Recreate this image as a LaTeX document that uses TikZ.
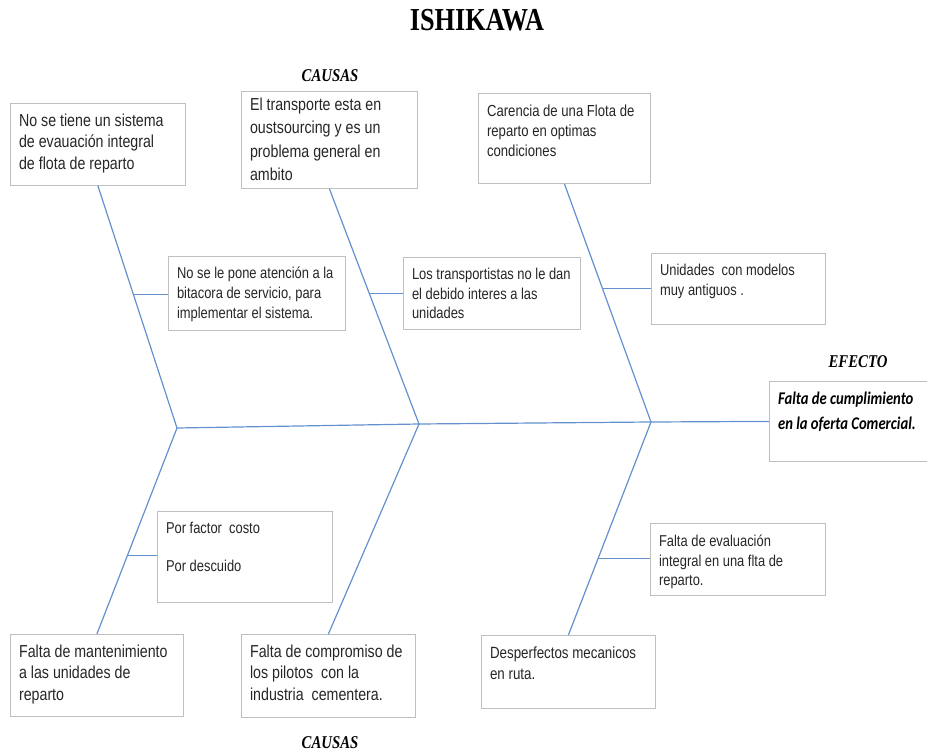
\documentclass[tikz,border=0pt]{standalone}
\usepackage{fontspec}
\setmainfont{Liberation Serif}
\newfontfamily\narrowsans[FakeStretch=0.82]{Liberation Sans}
\newfontfamily\narrowserif[FakeStretch=0.82]{Liberation Serif}
\newfontfamily\narrowcal[FakeStretch=0.82]{Carlito}
\usetikzlibrary{positioning}

\definecolor{boxgray}{RGB}{191,191,191}
\definecolor{bonecolor}{RGB}{100,145,205}
\definecolor{textgray}{RGB}{38,38,38}

% box text, top aligned: [top gap] width, height, text
\newcommand{\cbox}[4][3pt]{\parbox[c][#3][t]{#2}{\raggedright\vspace*{#1}#4}}

\begin{document}
\begin{tikzpicture}[x=0.75pt,y=-0.75pt,
    cause/.style={draw=boxgray,line width=0.6pt,anchor=north west,inner xsep=6.5pt,inner ysep=5pt,text=textgray,
        font=\narrowsans\fontsize{13}{16}\selectfont},
    small/.style={cause,font=\narrowsans\fontsize{11.8}{14.8}\selectfont},
    bone/.style={draw=bonecolor,line width=0.9pt},
    heading/.style={font=\narrowserif\bfseries\itshape\fontsize{13.5}{16}\selectfont}]
    \useasboundingbox (0,0) rectangle (927,755);

    \node[font=\narrowserif\bfseries\fontsize{24}{28}\selectfont] (titulo) at (477,20) {ISHIKAWA};
    \node[heading] (causasarriba) at (330,76) {CAUSAS};
    \node[heading] (causasabajo) at (330,743) {CAUSAS};
    \node[heading] (efectolabel) at (858,362) {EFECTO};

    % causas de arriba
    \node[cause] (nosistema) at (10,103) {\cbox{118.25pt}{51.5pt}{No se tiene un sistema\\de evauación integral\\de flota de reparto}};
    \node[cause,font=\narrowsans\fontsize{13}{17.5}\selectfont] (outsourcing) at (241,91) {\cbox[0pt]{119pt}{62.75pt}{El transporte esta en\\oustsourcing y es un\\problema general en\\ambito}};
    \node[cause,font=\narrowsans\fontsize{12}{15}\selectfont] (flota) at (478,93) {\cbox[4pt]{116pt}{57.5pt}{Carencia de una Flota de\\reparto en optimas\\condiciones}};

    \node[small] (bitacora) at (168,256) {\cbox{119.75pt}{45.5pt}{No se le pone atención a la\\bitacora de servicio, para\\implementar el sistema.}};
    \node[small] (interes) at (403,257) {\cbox{119.75pt}{44pt}{Los transportistas no le dan\\el debido interes a las\\unidades}};
    \node[small] (modelos) at (651,253) {\cbox{117.5pt}{43.25pt}{Unidades\ \ con modelos\\muy antiguos .}};

    % efecto
    \node[cause,text=black,font=\narrowcal\bfseries\itshape\fontsize{13.4}{18.75}\selectfont] (efecto) at (769,381) {\cbox{107.75pt}{50pt}{Falta de cumplimiento\\en la oferta Comercial.}};

    % causas de abajo
    \node[small] (costo) at (157,511) {\cbox{118.25pt}{58.25pt}{Por factor\ \ costo\\[13.5pt]Por descuido}};
    \node[small] (evaluacion) at (650,523) {\cbox[3.5pt]{118.25pt}{44pt}{Falta de evaluación\\integral en una flta de\\reparto.}};

    \node[cause] (mantenimiento) at (10,634) {\cbox{116.75pt}{51.5pt}{Falta de mantenimiento\\a las unidades de\\reparto}};
    \node[cause] (compromiso) at (241,634) {\cbox{117.5pt}{52.25pt}{Falta de compromiso de\\los pilotos\ \ con la\\industria\ \ cementera.}};
    \node[small,font=\narrowsans\fontsize{12.2}{15.5}\selectfont] (desperfectos) at (481,635) {\cbox[3.5pt]{117.5pt}{44.75pt}{Desperfectos mecanicos\\en ruta.}};

    % espina
    \coordinate (s1) at (177,428);
    \coordinate (s2) at (419,424);
    \coordinate (s3) at (651,422);
    \draw[bone] (s1) -- (s2) -- (s3) -- (efecto.west);

    \foreach \from/\to in {nosistema.south/s1,outsourcing.south/s2,flota.south/s3,mantenimiento.north/s1,compromiso.north/s2,desperfectos.north/s3}
        \draw[bone] (\from) -- (\to);

    \path (nosistema.south) -- (s1) coordinate[pos=0.45] (b1);
    \path (outsourcing.south) -- (s2) coordinate[pos=0.445] (b2);
    \path (flota.south) -- (s3) coordinate[pos=0.44] (b3);
    \path (s1) -- (mantenimiento.north) coordinate[pos=0.62] (b4);
    \path (s3) -- (desperfectos.north) coordinate[pos=0.64] (b5);

    \foreach \p/\to in {b1/bitacora,b2/interes,b3/modelos,b4/costo,b5/evaluacion}
        \draw[bone] (\p) -- (\p -| \to.west);
\end{tikzpicture}
\end{document}
